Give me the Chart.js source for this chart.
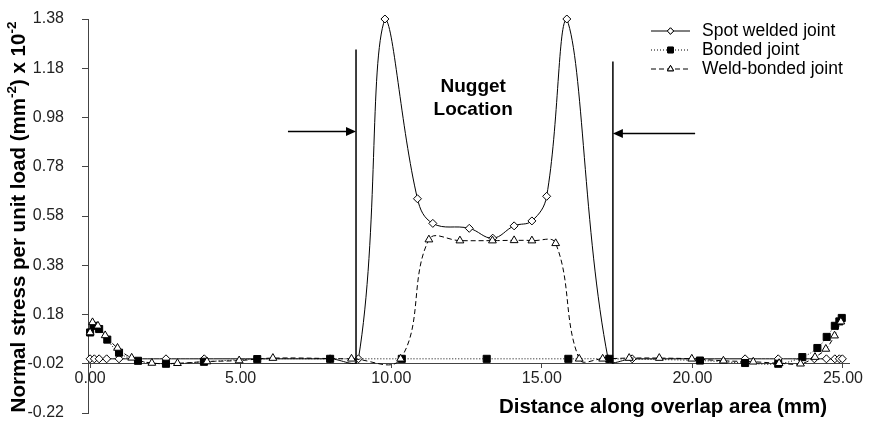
<!doctype html>
<html>
<head>
<meta charset="utf-8">
<title>Normal stress along overlap area</title>
<script src="https://cdn.jsdelivr.net/npm/chart.js"></script>
<style>
  html, body { margin: 0; padding: 0; background: #fff; }
</style>
</head>
<body>
<canvas id="stressChart" width="870" height="425"></canvas>
<script>
// distance along overlap (mm) / normal stress per unit load (x 10^-2 mm^-2)
const spotX = [0, 0.14, 0.30, 0.55, 0.96, 2.52, 3.79, 7.97, 8.91, 9.79, 10.87, 11.38, 12.59, 13.37, 14.08, 14.67, 15.16, 15.83, 17.20, 18.00, 21.75, 22.85, 24.05, 24.45, 24.73, 24.88, 24.98];
const spotY = [0, 0, 0, 0, 0, 0, 0, 0, 0, 1.38, 0.65, 0.55, 0.53, 0.49, 0.54, 0.56, 0.66, 1.38, 0, 0, 0, 0, 0, 0, 0, 0, 0];

const bondedX = [0, 0.11, 0.30, 0.57, 0.96, 1.59, 2.52, 3.78, 5.55, 7.97, 10.35, 13.17, 15.88, 17.24, 20.25, 21.75, 22.85, 23.65, 24.15, 24.46, 24.73, 24.88, 24.96];
const bondedY = [0.107, 0.134, 0.121, 0.078, 0.025, -0.008, -0.020, -0.012, -0.001, 0, 0, 0, 0, 0, -0.007, -0.017, -0.020, 0.007, 0.044, 0.089, 0.134, 0.152, 0.166];

const weldBondX = [0, 0.08, 0.26, 0.50, 0.91, 1.38, 2.05, 2.90, 3.88, 4.95, 6.07, 8.68, 10.31, 11.25, 12.28, 13.36, 14.08, 14.67, 15.46, 16.24, 17.02, 17.90, 18.90, 19.98, 21.03, 22.02, 22.88, 23.59, 24.07, 24.43, 24.72, 24.93];
const weldBondY = [0.107, 0.148, 0.134, 0.095, 0.044, 0.004, -0.017, -0.018, -0.011, -0.007, 0.003, 0, 0, 0.484, 0.48, 0.48, 0.481, 0.48, 0.469, 0, 0, 0.003, 0.003, 0, -0.008, -0.012, -0.018, -0.020, 0.007, 0.040, 0.094, 0.151];

const seriesNames = ["Spot welded joint", "Bonded joint", "Weld-bonded joint"];
const xTicks = [0, 5, 10, 15, 20, 25];
const yTicks = [-0.22, -0.02, 0.18, 0.38, 0.58, 0.78, 0.98, 1.18, 1.38];

// nugget boundaries (mm) and the label between them
const nuggetEdges = [8.83, 17.36];
const nuggetLabel = ["Nugget", "Location"];

const FONT = "'Liberation Sans', Arial, Helvetica, sans-serif";
const INK = "#000";
const AXIS = "#444";

function pairs(xs, ys) {
    return xs.map((x, i) => ({ x: x, y: ys[i] }));
}

const series = [
    { name: seriesNames[0], data: pairs(spotX, spotY), dash: [], style: "rectRot", fill: "#fff", radius: 4, order: 3 },
    { name: seriesNames[1], data: pairs(bondedX, bondedY), dash: [1, 2], style: "rect", fill: "#000", radius: 5, order: 2 },
    { name: seriesNames[2], data: pairs(weldBondX, weldBondY), dash: [5, 3], style: "triangle", fill: "#fff", radius: 4.5, order: 1 },
];

// axis titles, nugget markers and the legend are drawn on top of the plot
const overlay = {
    id: "overlay",
    afterDraw(chart) {
        const ctx = chart.ctx;
        const xs = chart.scales.x;
        const ys = chart.scales.y;
        ctx.save();
        ctx.fillStyle = INK;
        ctx.strokeStyle = INK;

        // y title with superscripts, rotated
        const big = "bold 20.5px " + FONT;
        const small = "bold 13.5px " + FONT;
        const parts = [
            ["Normal stress per unit load (mm", false],
            ["-2", true],
            [") x 10", false],
            ["-2", true],
        ];
        let total = 0;
        parts.forEach(p => {
            ctx.font = p[1] ? small : big;
            total += ctx.measureText(p[0]).width;
        });
        ctx.save();
        ctx.translate(19, 217);
        ctx.rotate(-Math.PI / 2);
        ctx.textBaseline = "middle";
        ctx.textAlign = "left";
        let cx = -total / 2;
        parts.forEach(p => {
            ctx.font = p[1] ? small : big;
            ctx.fillText(p[0], cx, p[1] ? -7 : 0);
            cx += ctx.measureText(p[0]).width;
        });
        ctx.restore();

        // x title
        ctx.font = big;
        ctx.textAlign = "right";
        ctx.textBaseline = "middle";
        ctx.fillText("Distance along overlap area (mm)", 827, 407);

        // nugget boundaries with arrows
        const base = ys.getPixelForValue(-0.02);
        const leftX = xs.getPixelForValue(nuggetEdges[0]);
        const rightX = xs.getPixelForValue(nuggetEdges[1]);
        ctx.lineWidth = 1.5;
        ctx.beginPath();
        ctx.moveTo(leftX, ys.getPixelForValue(1.256));
        ctx.lineTo(leftX, base);
        ctx.moveTo(rightX, ys.getPixelForValue(1.207));
        ctx.lineTo(rightX, base);
        ctx.stroke();

        function arrow(fromX, toX, y) {
            const dir = Math.sign(toX - fromX);
            ctx.lineWidth = 1.5;
            ctx.beginPath();
            ctx.moveTo(fromX, y);
            ctx.lineTo(toX - dir * 8, y);
            ctx.stroke();
            ctx.beginPath();
            ctx.moveTo(toX, y);
            ctx.lineTo(toX - dir * 10, y - 4.5);
            ctx.lineTo(toX - dir * 10, y + 4.5);
            ctx.closePath();
            ctx.fill();
        }
        arrow(xs.getPixelForValue(6.57), leftX, ys.getPixelForValue(0.923));
        arrow(xs.getPixelForValue(20.09), rightX, ys.getPixelForValue(0.915));

        ctx.font = "bold 19px " + FONT;
        ctx.textAlign = "center";
        const labelX = xs.getPixelForValue(12.72);
        ctx.fillText(nuggetLabel[0], labelX, ys.getPixelForValue(1.106));
        ctx.fillText(nuggetLabel[1], labelX, ys.getPixelForValue(1.013));

        // legend
        ctx.font = "17.5px " + FONT;
        ctx.textAlign = "left";
        series.forEach((s, i) => {
            const y = 31 + i * 19;
            ctx.lineWidth = 1;
            ctx.setLineDash(s.dash);
            ctx.beginPath();
            ctx.moveTo(651, y);
            ctx.lineTo(690, y);
            ctx.stroke();
            ctx.setLineDash([]);
            ctx.fillStyle = s.fill;
            Chart.helpers.drawPoint(ctx, { pointStyle: s.style, radius: s.radius * 0.8, borderWidth: 1 }, 670.5, y);
            ctx.fill();
            ctx.stroke();
            ctx.fillStyle = INK;
            ctx.fillText(s.name, 702, y);
        });
        ctx.restore();
    },
};

const chart = new Chart(document.getElementById("stressChart"), {
    type: "scatter",
    data: {
        datasets: series.map(s => ({
            label: s.name,
            data: s.data,
            showLine: true,
            borderColor: INK,
            borderWidth: 1,
            borderDash: s.dash,
            tension: 0.4,
            pointStyle: s.style,
            pointRadius: s.radius,
            pointBackgroundColor: s.fill,
            pointBorderColor: INK,
            pointBorderWidth: 1,
            order: s.order,
            clip: false,
        })),
    },
    options: {
        responsive: false,
        animation: false,
        devicePixelRatio: 1,
        layout: { padding: { top: 19, right: 21, bottom: 12, left: 0 } },
        plugins: {
            legend: { display: false },
            tooltip: { enabled: false },
        },
        scales: {
            x: {
                type: "linear",
                min: -0.07,
                max: 25.2,
                position: { y: -0.02 },
                afterFit(scale) {
                    scale.height = 0;
                    scale.paddingLeft = 0;
                    scale.paddingRight = 0;
                },
                afterBuildTicks(scale) { scale.ticks = xTicks.map(v => ({ value: v })); },
                grid: { drawOnChartArea: false, tickLength: 4, color: AXIS },
                border: { color: AXIS, width: 1 },
                ticks: {
                    padding: 1,
                    color: "#222",
                    font: { family: FONT, size: 16 },
                    callback: v => v.toFixed(2),
                },
            },
            y: {
                type: "linear",
                min: -0.22,
                max: 1.38,
                afterFit(scale) {
                    scale.width = 88;
                    scale.paddingTop = 0;
                    scale.paddingBottom = 0;
                },
                afterBuildTicks(scale) { scale.ticks = yTicks.map(v => ({ value: v })); },
                grid: { drawOnChartArea: false, tickLength: 6, color: AXIS },
                border: { color: AXIS, width: 1 },
                ticks: {
                    padding: 18,
                    color: "#222",
                    font: { family: FONT, size: 16 },
                    callback: v => v.toFixed(2),
                },
            },
        },
    },
    plugins: [overlay],
});
</script>
</body>
</html>
